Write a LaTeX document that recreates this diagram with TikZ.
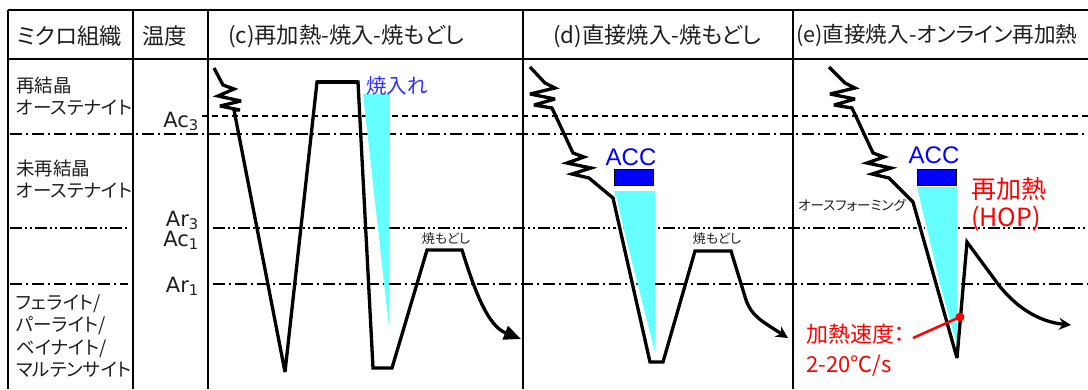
\documentclass[tikz,border=0pt]{standalone}
\usepackage{fontspec}
\usetikzlibrary{arrows.meta}
\newfontfamily\jp[RawFeature=+palt]{Noto Sans CJK JP}
\newfontfamily\lat{DejaVu Sans}
\newfontfamily\arl{Liberation Sans}
\newcommand\myfs[2]{\fontsize{#1}{#2}\selectfont}
\definecolor{cyanfill}{HTML}{66FFFF}
\definecolor{qblue}{HTML}{2F2FFF}
\definecolor{txt}{HTML}{1E1E1E}
\tikzset{
  frame/.style={line width=2.2pt, black},
  ldash/.style={line width=1.1pt, dash pattern=on 6pt off 4pt},
  ldashdot/.style={line width=1.1pt, dash pattern=on 12pt off 4pt on 2pt off 4pt},
  ldashdotdot/.style={line width=1.1pt, dash pattern=on 12pt off 3pt on 2pt off 3pt on 2pt off 3pt},
  curve/.style={line width=3.3pt, line join=miter, miter limit=4},
  halo/.style={line width=7pt, white},
  head/.style={font=\jp\myfs{22.3}{24}, text=txt, inner sep=0pt, anchor=west},
  phase/.style={font=\jp\myfs{18.5}{22.5}, text=txt, inner sep=0pt, anchor=west, align=left},
  temp/.style={font=\lat\myfs{21}{24}, text=txt, inner sep=0pt, anchor=base east},
  small/.style={font=\jp\myfs{13}{15}, text=txt, inner sep=0pt},
  acc/.style={font=\arl\myfs{24}{26}, text=blue, inner sep=0pt},
  accbar/.style={draw=black, line width=0.8pt, fill=blue},
  redtxt/.style={text=red, inner sep=0pt, anchor=west, align=left}
}
\begin{document}
\begin{tikzpicture}[x=1pt,y=-1pt]
\useasboundingbox (0,0) rectangle (1088,389);
% reference lines
\draw[ldash] (202,116) -- (1088,116);
\draw[ldashdot] (10,134) -- (1088,134);
\draw[ldashdotdot] (10,228) -- (128,228);
\draw[ldashdotdot] (213,228) -- (1088,228);
\draw[ldashdot] (10,284) -- (128,284);
\draw[ldashdot] (213,284) -- (1088,284);
% table frame
\draw[line width=1.2pt] (8,10) -- (1088,10);
\draw[line width=2.6pt] (8,59) -- (1088,59);
\foreach \xx in {8,133,208,523,793} \draw[frame] (\xx,10) -- (\xx,389);
% header texts
\node[head] (h1) at (17,36) {ミクロ組織};
\node[head] (h2) at (142,36) {温度};
\node[head] (h3) at (228,36) {(c)再加熱-焼入-焼もどし};
\node[head] (h4) at (553,36) {(d)直接焼入-焼もどし};
\node[head, font=\jp\myfs{21.6}{24}] (h5) at (796,36) {(e)直接焼入-オンライン再加熱};
% phases
\node[phase] (p1) at (16,96) {再結晶\\オーステナイト};
\node[phase] (p2) at (16,179) {未再結晶\\オーステナイト};
\node[phase] (p3) at (16,336) {フェライト/\\パーライト/\\ベイナイト/\\マルテンサイト};
% temperatures
\node[temp] (t1) at (199,127) {Ac\textsubscript{3}};
\node[temp] (t2) at (199,226) {Ar\textsubscript{3}};
\node[temp] (t3) at (199,246) {Ac\textsubscript{1}};
\node[temp] (t4) at (199,292) {Ar\textsubscript{1}};
% cyan cooling wedges
\fill[cyanfill] (363,94) -- (390,94) -- (389,327) -- cycle;
\fill[cyanfill] (614,191) -- (655,191) -- (655,352) -- cycle;
\fill[cyanfill] (917,187) -- (957,187) -- (957,355) -- cycle;
% panel (c)
\draw[curve, -{Triangle[length=17pt,width=14pt]}]
  (214,68) -- (223,85) -- (234,89) -- (218,96) -- (241,101) -- (220,106) -- (240,110) -- (234,110)
  -- (285,372) -- (317,82) -- (358,82) -- (373,368) -- (392,368) -- (427,250) -- (462,250)
  .. controls (475,292) and (488,326) .. (521,339);
\draw[line width=4.5pt] (317,82) -- (358,82);
\node[font=\jp\myfs{20.5}{22}, text=qblue, inner sep=0pt, anchor=west] (q1) at (366,86) {焼入れ};
\node[small] (tm1) at (446,239) {焼もどし};
% panel (d)
\draw[halo] (613,198) -- (650,362);
\draw[curve, -{Stealth[length=12pt,width=12pt,inset=4pt]}]
  (530,67) -- (545,83) -- (555,88) -- (530,94) -- (555,99) -- (534,105) -- (552,108)
  -- (573,153) -- (584,157) -- (567,163) -- (591,168) -- (572,174) -- (589,178)
  -- (613,198) -- (650,362) -- (663,362) -- (695,251) -- (731,251) -- (746,300)
  .. controls (752,316) and (760,320) .. (788,338);
\draw[accbar] (614,169) rectangle (653,185);
\node[acc] (a1) at (631,157) {ACC};
\node[small] (tm2) at (717,239) {焼もどし};
% panel (e)
\draw[halo] (913,202) -- (957,358);
\draw[curve, -{Stealth[length=12pt,width=12pt,inset=4pt]}]
  (829,67) -- (845,83) -- (855,88) -- (830,94) -- (855,99) -- (834,105) -- (852,108)
  -- (873,153) -- (884,157) -- (867,163) -- (891,168) -- (872,174) -- (889,178)
  -- (913,202) -- (957,358) -- (967,242) -- (995,280)
  .. controls (1015,308) and (1040,322) .. (1071,325);
\draw[accbar] (917,169) rectangle (956,185);
\node[acc] (a2) at (934,155) {ACC};
\node[small, font=\jp\myfs{13.5}{15}] (ausf) at (852,205) {オースフォーミング};
\node[redtxt, font=\jp\myfs{25}{28}] (reheat) at (971,204) {再加熱\\(HOP)};
\node[redtxt, font=\jp\myfs{22}{30}] (rate) at (806,350) {加熱速度：\\2-20℃/s};
\coordinate (ratept) at (913,338);
\node[circle, fill=red, inner sep=0pt, minimum size=9pt] (dot) at (960,317) {};
\draw[red, line width=2.5pt] (dot.center) -- (ratept);
\end{tikzpicture}
\end{document}
